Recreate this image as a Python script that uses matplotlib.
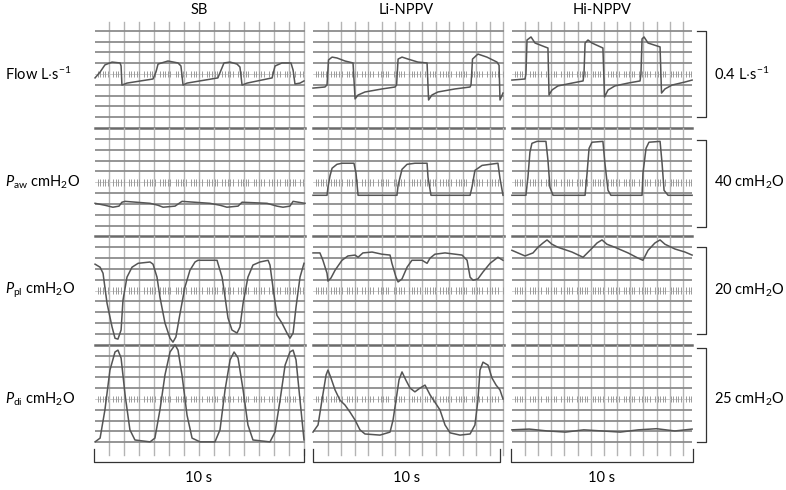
import numpy as np
import matplotlib
matplotlib.use('Agg')
import matplotlib.pyplot as plt
from matplotlib.transforms import blended_transform_factory as blend

FONT = 'Lato'
plt.rcParams['font.family'] = [FONT, 'DejaVu Sans']
plt.rcParams['mathtext.fontset'] = 'custom'
plt.rcParams['mathtext.rm'] = FONT
plt.rcParams['mathtext.it'] = FONT + ':italic'
plt.rcParams['mathtext.bf'] = FONT + ':bold'

# ---------------- data ----------------
conditions = ['SB', 'Li-NPPV', 'Hi-NPPV']
row_labels = [r'Flow L$\cdot$s$^{-1}$', r'$P_{\mathrm{aw}}$ cmH$_2$O',
              r'$P_{\mathrm{pl}}$ cmH$_2$O', r'$P_{\mathrm{di}}$ cmH$_2$O']
scale_labels = [r'0.4 L$\cdot$s$^{-1}$', r'40 cmH$_2$O', r'20 cmH$_2$O', r'25 cmH$_2$O']
scale_sizes = [0.4, 40, 20, 25]
scale_lows = [-0.2, -20.5, -10.0, -11.5]
units_per_div = [0.05, 5.0, 2.5, 2.88]
time_span_label = '10 s'
time_span = 10

# Flow (L/s)
flow_sb_t = [0.05,0.29,0.52,0.86,1.24,1.29,1.33,1.57,2.81,2.95,3.05,3.52,4.0,4.14,4.24,4.43,
             5.9,6.05,6.19,6.48,6.81,6.95,7.05,7.29,8.48,8.62,8.95,9.38,9.48,9.57,9.81,10.0]
flow_sb_v = [-0.018,0.009,0.042,0.055,0.051,0.037,-0.051,-0.042,-0.023,0.009,0.046,0.060,0.051,0.037,-0.051,-0.042,
             -0.018,0.018,0.051,0.055,0.046,0.032,-0.051,-0.042,-0.018,0.037,0.051,0.051,0.018,-0.046,-0.042,-0.032]
flow_li_t = [0.0,0.64,0.75,0.83,1.02,1.28,1.71,2.14,2.25,2.41,2.78,3.69,4.39,4.47,4.55,4.76,5.08,5.61,6.10,
             6.18,6.36,6.68,7.59,8.40,8.45,8.53,8.82,9.30,9.84,9.95,10.0,10.16]
flow_li_v = [-0.065,-0.060,-0.050,0.065,0.078,0.074,0.060,0.051,-0.115,-0.097,-0.083,-0.069,-0.060,-0.050,0.069,0.078,0.069,0.055,0.051,
             -0.120,-0.097,-0.083,-0.069,-0.060,-0.050,0.069,0.092,0.078,0.055,0.040,-0.120,-0.088]
flow_hi_t = [0.05,0.77,0.82,0.88,1.10,1.32,1.87,2.03,2.09,2.25,2.58,3.35,3.96,4.01,4.07,4.23,4.45,5.05,5.14,
             5.33,5.71,6.43,7.09,7.14,7.20,7.31,7.53,8.19,8.27,8.46,8.85,9.56,9.95]
flow_hi_v = [-0.028,-0.023,0.0,0.157,0.171,0.143,0.125,0.120,-0.097,-0.074,-0.055,-0.042,-0.032,0.0,0.143,0.157,0.143,0.120,-0.106,
             -0.074,-0.055,-0.042,-0.032,0.0,0.162,0.171,0.143,0.125,-0.088,-0.069,-0.051,-0.037,-0.028]

# Paw (cmH2O)
paw_sb_t = [0.05,0.52,0.90,1.19,1.33,1.48,2.67,3.05,3.29,3.86,4.19,5.52,6.0,6.33,6.86,7.05,8.24,8.71,9.0,9.33,9.48,10.05]
paw_sb_v = [-9.7,-10.6,-11.5,-11.0,-9.2,-8.8,-9.7,-10.6,-11.5,-11.0,-8.8,-9.7,-10.6,-11.5,-11.0,-9.2,-9.7,-11.0,-11.5,-11.0,-8.8,-9.7]
paw_li_t = [0.0,0.75,0.80,0.91,1.02,1.28,1.55,2.19,2.30,2.41,4.49,4.55,4.76,5.03,5.45,6.10,6.15,6.31,
            8.40,8.50,8.66,9.04,9.89,10.0,10.16]
paw_li_v = [-6.0,-6.0,-2.3,3.0,6.5,8.3,8.8,8.8,4.2,-6.0,-6.0,-1.4,6.0,8.3,8.8,8.8,2.3,-6.0,
            -6.0,-2.3,5.5,7.8,8.8,1.8,-6.0]
paw_hi_t = [0.05,0.82,0.93,1.04,1.15,1.43,1.92,2.03,2.14,2.31,4.07,4.18,4.29,4.45,5.05,5.16,5.33,5.49,
            7.20,7.25,7.42,7.58,8.19,8.30,8.41,8.63,9.95]
paw_hi_v = [-6.0,-6.0,2.3,13.9,18.0,18.9,18.9,10.2,-2.3,-6.0,-6.0,4.2,15.7,18.5,18.9,8.8,-3.7,-6.0,
            -6.0,4.2,15.7,18.5,18.9,8.8,-3.7,-6.0,-6.0]

# Ppl (cmH2O)
ppl_sb_t = [0.05,0.29,0.43,0.62,0.86,1.00,1.14,1.29,1.38,1.57,1.81,2.10,2.67,2.81,3.0,3.14,3.38,3.62,3.76,3.90,
            4.10,4.33,4.57,4.81,4.95,5.86,5.90,6.10,6.24,6.38,6.57,6.81,6.95,7.10,7.33,7.57,7.90,8.29,8.38,
            8.52,8.71,8.95,9.19,9.33,9.48,9.62,9.81,10.0]
ppl_sb_v = [6.1,5.4,4.0,-2.9,-8.4,-11.0,-11.2,-9.1,-2.2,3.1,5.4,6.3,6.6,6.1,3.1,-1.5,-7.5,-11.0,-11.9,-10.7,
            -5.2,0.8,4.7,6.6,7.0,7.0,6.3,3.1,-1.5,-6.3,-9.1,-9.8,-8.4,-2.9,3.1,5.9,6.6,7.0,5.9,
            0.8,-5.7,-7.5,-9.8,-11.0,-9.8,-3.8,3.1,6.3]
ppl_li_t = [0.0,0.37,0.53,0.75,0.80,0.96,1.18,1.55,1.87,2.25,2.41,2.67,3.16,3.69,4.12,4.22,4.44,4.55,4.76,
            5.03,5.29,5.83,6.10,6.26,6.52,7.06,7.97,8.24,8.40,8.56,8.82,9.09,9.47,9.89,10.16]
ppl_li_v = [8.7,8.7,7.0,4.0,2.2,2.9,4.7,7.0,8.0,8.2,7.7,8.7,8.9,8.4,8.2,6.3,3.1,2.0,2.7,
            5.4,7.0,7.0,6.3,7.5,8.4,8.7,8.2,7.0,3.1,2.4,2.7,4.3,6.3,7.7,7.0]
ppl_hi_t = [0.05,0.38,0.77,1.21,1.48,1.76,1.98,2.25,2.58,3.35,3.96,4.34,4.73,5.0,5.27,5.71,6.43,6.98,
            7.25,7.53,7.91,8.19,8.46,9.01,9.56,9.95]
ppl_hi_v = [9.3,8.7,8.0,8.7,10.0,11.0,11.7,10.7,10.0,8.9,7.7,9.3,11.0,11.7,10.7,10.0,8.7,7.5,
            7.0,9.3,11.0,11.7,10.7,9.6,8.9,8.2]

# Pdi (cmH2O)
pdi_sb_t = [0.05,0.29,0.52,0.76,1.0,1.14,1.29,1.48,1.71,1.95,2.67,2.90,3.14,3.38,3.62,3.86,4.0,4.19,4.43,4.67,
            5.05,5.76,6.0,6.24,6.48,6.67,6.86,7.10,7.33,7.57,8.38,8.62,8.86,9.10,9.33,9.48,9.62,9.81,10.0]
pdi_sb_v = [-11.4,-10.4,-2.9,7.7,12.5,13.0,10.9,1.1,-8.2,-10.9,-11.4,-10.4,-2.9,6.4,12.5,14.4,13.0,6.4,-4.3,-10.4,
            -11.4,-11.4,-8.2,2.4,10.4,12.5,10.9,2.4,-6.9,-10.9,-11.4,-8.8,-0.3,9.0,12.5,13.0,10.4,-0.3,-10.9]
pdi_li_t = [0.0,0.27,0.48,0.70,0.80,0.96,1.18,1.44,1.71,1.98,2.25,2.51,2.78,3.58,4.12,4.28,4.44,4.60,4.76,
            4.97,5.19,5.45,5.72,5.99,6.26,6.79,7.06,7.33,7.86,8.40,8.66,8.82,8.93,9.09,9.36,9.57,9.79,10.0,10.16]
pdi_li_v = [-8.8,-6.9,-0.3,6.4,7.7,5.6,2.4,-0.3,-1.6,-3.5,-5.6,-8.2,-9.3,-9.6,-8.8,-5.6,-0.3,5.1,7.2,
            5.0,2.9,1.9,2.9,3.7,1.1,-2.9,-6.9,-9.0,-9.6,-9.3,-6.9,-0.3,7.7,9.8,9.0,5.6,3.7,2.4,0.0]
pdi_hi_t = [0.05,1.0,2.0,3.0,4.0,5.0,6.0,7.0,8.0,9.0,9.95]
pdi_hi_v = [-8.2,-8.0,-8.5,-8.8,-8.2,-8.5,-8.8,-8.2,-7.9,-8.5,-8.0]

traces = [
    [(flow_sb_t, flow_sb_v), (flow_li_t, flow_li_v), (flow_hi_t, flow_hi_v)],
    [(paw_sb_t, paw_sb_v), (paw_li_t, paw_li_v), (paw_hi_t, paw_hi_v)],
    [(ppl_sb_t, ppl_sb_v), (ppl_li_t, ppl_li_v), (ppl_hi_t, ppl_hi_v)],
    [(pdi_sb_t, pdi_sb_v), (pdi_li_t, pdi_li_v), (pdi_hi_t, pdi_hi_v)],
]

# ---------------- layout (pixels) ----------------
W, H = 786, 490
fig = plt.figure(figsize=(W / 100, H / 100), dpi=100)
fig.patch.set_facecolor('white')

grid_x = [(95, 305), (313, 504), (512, 692)]
bracket_x = [(94, 304), (313, 500), (511, 693)]
vgrid_first = [0.714, 0.80, 0.77]
vgrid_step = [0.714, 0.722, 0.723]
row_center = [74, 182.3, 290.6, 399]
DIV = 10.83
TOP_Y, BOT_Y = 22, 455

HCOL = '#8c8c8c'
VCOL = '#b4b4b4'
SEPCOL = '#6a6a6a'
TRACE = '#555555'
FS = 10.5

def fy(y):
    return 1 - y / H

col_axes = []
for c in range(3):
    gx0, gx1 = grid_x[c]
    bx0, bx1 = bracket_x[c]
    pps = (bx1 - bx0) / time_span
    tl = (gx0 - bx0) / pps
    tr = (gx1 - bx0) / pps
    axes_col = []
    for r in range(4):
        u = units_per_div[r]
        yc = row_center[r]
        ax = fig.add_axes([gx0 / W, fy(yc + 5 * DIV), (gx1 - gx0) / W, 10 * DIV / H])
        ax.set_xlim(tl, tr)
        ax.set_ylim(-5 * u, 5 * u)
        ax.axis('off')
        # vertical grid
        ymax = 1.0 if r > 0 else 1 - (TOP_Y - (yc - 5 * DIV)) / (10 * DIV)
        ymin = 0.0 if r < 3 else -(BOT_Y - (yc + 5 * DIV)) / (10 * DIV)
        t = vgrid_first[c]
        while t <= tr + 1e-6:
            ax.axvline(t, ymin=ymin, ymax=ymax, color=VCOL, lw=1.0, zorder=1, clip_on=False)
            t += vgrid_step[c]
        # horizontal grid
        for k in [-4, -3, -2, -1, 1, 2, 3, 4]:
            ax.axhline(k * u, color=HCOL, lw=1.3, zorder=2)
        if r < 3:
            ax.axhline(-5 * u, color=SEPCOL, lw=1.8, zorder=2, clip_on=False)
        # centre hatched line
        ax.axhline(0, color='#c4c4c4', lw=0.6, zorder=2)
        step = 2.6 / pps
        xs = np.arange(tl + step, tr, step)
        keep = (np.arange(len(xs)) % 6) != 5
        ax.vlines(xs[keep], -0.3 * u, 0.3 * u, color='#9a9a9a', lw=0.7, zorder=2)
        # trace
        tt, vv = traces[r][c]
        ax.plot(tt, vv, color=TRACE, lw=1.1, zorder=5, clip_on=False,
                solid_joinstyle='round')
        axes_col.append(ax)
    col_axes.append(axes_col)

    # column title
    top_ax = axes_col[0]
    tb = blend(top_ax.transData, fig.transFigure)
    top_ax.text(time_span / 2, fy(10), conditions[c], transform=tb, ha='center', va='center', fontsize=FS)
    # bottom time bracket
    bot_ax = axes_col[3]
    bb = blend(bot_ax.transData, fig.transFigure)
    bot_ax.plot([0, 0, time_span, time_span], [fy(449), fy(462), fy(462), fy(449)],
                transform=bb, color='#333333', lw=0.9, clip_on=False)
    bot_ax.text(time_span / 2, fy(478), time_span_label, transform=bb, ha='center', va='center', fontsize=FS)

# left labels and right scale brackets
for r in range(4):
    fig.text(5 / W, fy(row_center[r]), row_labels[r], ha='left', va='center', fontsize=FS)
    ax_r = col_axes[2][r]
    br = blend(fig.transFigure, ax_r.transData)
    lo = scale_lows[r]
    hi = lo + scale_sizes[r]
    ax_r.plot([697 / W, 706 / W, 706 / W, 697 / W], [lo, lo, hi, hi], transform=br,
              color='#333333', lw=0.9, clip_on=False)
    ax_r.text(714 / W, 0, scale_labels[r], transform=br, ha='left', va='center', fontsize=FS)

fig.savefig('out.png', dpi=100, facecolor='white')
